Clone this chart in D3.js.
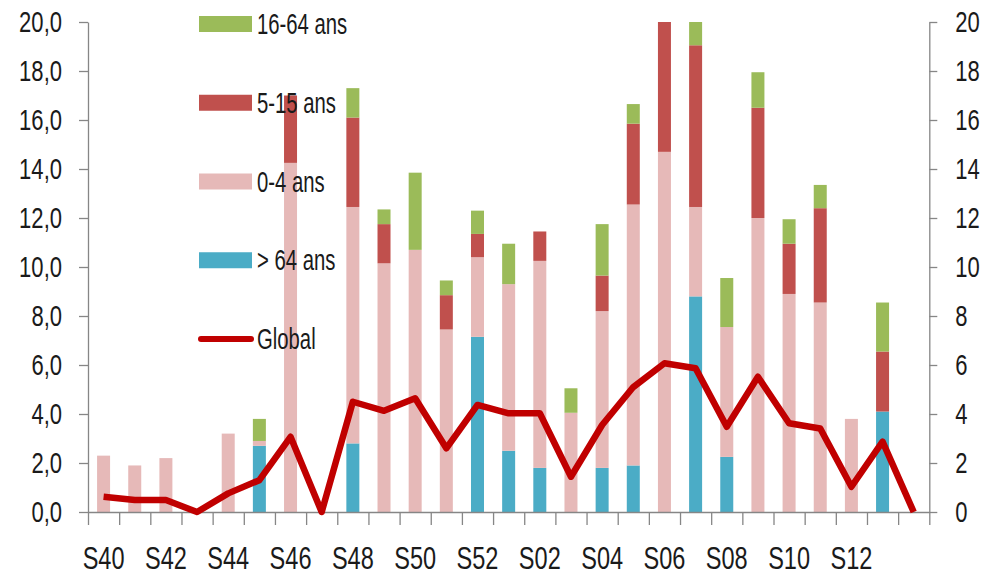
<!DOCTYPE html>
<html>
<head>
<meta charset="utf-8">
<script src="https://cdn.jsdelivr.net/npm/d3@7"></script>
<style>
  html, body { margin: 0; padding: 0; background: #fff; }
  svg { display: block; }
  .lbl { font-family: "Liberation Sans", Arial, sans-serif; fill: #1a1a1a; transform-box: fill-box; }
</style>
</head>
<body>
<svg id="chart" width="990" height="576"></svg>
<script>
// Weekly incidence by age group, stacked bars, with the global rate as a line
const weeks = ["S40","S41","S42","S43","S44","S45","S46","S47","S48","S49","S50","S51","S52",
               "S01","S02","S03","S04","S05","S06","S07","S08","S09","S10","S11","S12","S13","S14"];

const over64   = [0,0,0,0,0,2.7,0,0,2.8,0,0,0,7.15,2.5,1.8,0,1.8,1.9,0,8.8,2.25,0,0,0,0,4.1,0];
const age0_4   = [2.3,1.9,2.2,0,3.2,0.2,14.25,0,9.65,10.15,10.7,7.45,3.25,6.8,8.45,4.05,6.4,10.65,14.7,3.65,5.3,12.0,8.9,8.55,3.8,0,0];
const age5_15  = [0,0,0,0,0,0,2.75,0,3.65,1.6,0,1.4,0.95,0,1.2,0,1.45,3.3,5.3,6.6,0,4.5,2.05,3.85,0,2.45,0];
const age16_64 = [0,0,0,0,0,0.9,0,0,1.2,0.6,3.15,0.6,0.95,1.65,0,1.0,2.1,0.8,0,0.95,2.0,1.45,1.0,0.95,0,2.0,0];
const globalRate = [0.62,0.49,0.49,0,0.76,1.3,3.07,0,4.5,4.13,4.64,2.6,4.37,4.03,4.03,1.44,3.55,5.1,6.07,5.87,3.48,5.52,3.62,3.41,1.03,2.87,0];

const leftTicks  = [0,2,4,6,8,10,12,14,16,18,20];
const rightTicks = [0,2,4,6,8,10,12,14,16,18,20];
const shownWeeks = ["S40","S42","S44","S46","S48","S50","S52","S02","S04","S06","S08","S10","S12"];

const seriesKeys = ["over64","age0_4","age5_15","age16_64"];
const seriesColor = { over64: "#4BACC6", age0_4: "#E6B9B8", age5_15: "#C0504D", age16_64: "#9BBB59" };

const legendItems = [
  { label: "16-64 ans", key: "age16_64", type: "rect" },
  { label: "5-15 ans",  key: "age5_15",  type: "rect" },
  { label: "0-4 ans",   key: "age0_4",   type: "rect" },
  { label: "> 64 ans",  key: "over64",   type: "rect" },
  { label: "Global",    key: "global",   type: "line" }
];

const rows = weeks.map((w, i) => ({
  week: w, over64: over64[i], age0_4: age0_4[i], age5_15: age5_15[i], age16_64: age16_64[i]
}));

const svg = d3.select("#chart");
const plot = { left: 88, right: 929.3, top: 22, bottom: 512 };

const x = d3.scaleBand().domain(weeks).range([plot.left, plot.right]).paddingInner(0).paddingOuter(0);
const xIdx = d3.scaleLinear().domain([0, weeks.length]).range([plot.left, plot.right]);
const y = d3.scaleLinear().domain([0, 20]).range([plot.bottom, plot.top]);
const barW = 13;

svg.append("defs").append("clipPath").attr("id", "plotClip")
  .append("rect").attr("x", plot.left).attr("y", plot.top)
  .attr("width", plot.right - plot.left).attr("height", plot.bottom - plot.top);

// Stacked bars
const stacked = d3.stack().keys(seriesKeys)(rows);
svg.append("g").attr("clip-path", "url(#plotClip)")
  .selectAll("g").data(stacked).join("g")
  .attr("fill", d => seriesColor[d.key])
  .selectAll("rect").data(d => d.filter(s => s[1] - s[0] > 0)).join("rect")
  .attr("x", d => x(d.data.week) + x.bandwidth() / 2 - barW / 2)
  .attr("width", barW)
  .attr("y", d => y(d[1]))
  .attr("height", d => y(d[0]) - y(d[1]));

const axisColor = "#868686";
function styleAxis(g) {
  g.selectAll(".domain").attr("stroke", axisColor).attr("stroke-width", 1.3);
  g.selectAll(".tick line").attr("stroke", axisColor).attr("stroke-width", 1.3);
}

// Left axis
const fmtComma = v => d3.format(".1f")(v).replace(".", ",");
const gl = svg.append("g").attr("transform", `translate(${plot.left},0)`)
  .call(d3.axisLeft(y).tickValues(leftTicks).tickSize(9).tickPadding(17).tickSizeOuter(0).tickFormat(fmtComma));
styleAxis(gl);
gl.selectAll("text").attr("class", "lbl").attr("font-size", 29)
  .style("transform-origin", "right center").style("transform", "scaleX(0.76)");

// Right axis
const gr = svg.append("g").attr("transform", `translate(${plot.right},0)`)
  .call(d3.axisRight(y).tickValues(rightTicks).tickSize(8).tickPadding(18).tickSizeOuter(0).tickFormat(d3.format("d")));
styleAxis(gr);
gr.selectAll("text").attr("class", "lbl").attr("font-size", 29)
  .style("transform-origin", "left center").style("transform", "scaleX(0.76)");

// Bottom axis: boundary ticks between weeks
const gb = svg.append("g").attr("transform", `translate(0,${plot.bottom})`)
  .call(d3.axisBottom(xIdx).tickValues(d3.range(weeks.length + 1)).tickSize(13).tickSizeOuter(0).tickFormat(""));
styleAxis(gb);

// Bottom labels every other week
const gbl = svg.append("g").attr("transform", `translate(0,${plot.bottom})`)
  .call(d3.axisBottom(x).tickValues(shownWeeks).tickSize(0).tickPadding(35));
gbl.select(".domain").remove();
gbl.selectAll("text").attr("class", "lbl").attr("font-size", 31)
  .style("transform-origin", "center").style("transform", "scaleX(0.76)");

// Global rate line
const line = d3.line()
  .x((d, i) => x(weeks[i]) + x.bandwidth() / 2)
  .y(d => y(d));
svg.append("path").datum(globalRate)
  .attr("d", line)
  .attr("fill", "none")
  .attr("stroke", "#C00000")
  .attr("stroke-width", 6.5)
  .attr("stroke-linejoin", "round")
  .attr("stroke-linecap", "butt");

// Legend
const legend = svg.append("g");
const legY = d3.scalePoint().domain(legendItems.map(d => d.label)).range([24, 339]);
legendItems.forEach(item => {
  const cy = legY(item.label);
  if (item.type === "rect") {
    legend.append("rect").attr("x", 199).attr("y", cy - 8).attr("width", 53).attr("height", 16)
      .attr("fill", seriesColor[item.key]);
  } else {
    legend.append("line").attr("x1", 201).attr("x2", 251).attr("y1", cy).attr("y2", cy)
      .attr("stroke", "#C00000").attr("stroke-width", 6).attr("stroke-linecap", "round");
  }
  legend.append("text").attr("class", "lbl").attr("x", 257).attr("y", cy).attr("dy", "0.35em")
    .attr("font-size", 29).style("transform-origin", "left center").style("transform", "scaleX(0.7)")
    .text(item.label);
});
</script>
</body>
</html>
